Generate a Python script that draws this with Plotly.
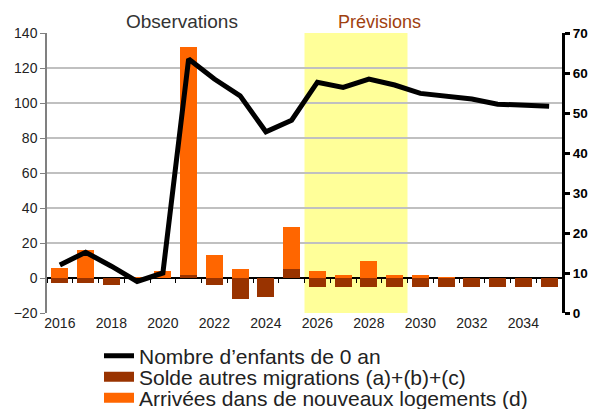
import plotly.graph_objects as go

years = list(range(2016, 2036))
# Nombre d'enfants de 0 an (axe de droite)
enfants = [12.0, 15.2, 11.7, 7.9, 10.0, 63.5, 58.5, 54.3, 45.3, 48.2,
           57.7, 56.4, 58.5, 57.0, 54.9, 54.2, 53.5, 52.2, 52.0, 51.7]
# Solde autres migrations (a)+(b)+(c)
solde = [-3, -3, -4, 0, 0, 2, -4, -12, -11, 5,
         -5.3, -5.3, -5.3, -5.3, -5.3, -5.3, -5.3, -5.3, -5.3, -5.3]
# Arrivées dans de nouveaux logements (d)
arrivees = [6, 16, 0, 0.5, 4, 130, 13, 5, 0, 24,
            4.2, 1.5, 9.9, 1.9, 1.9, 0.5, 0, 0, 0, 0]

ORANGE = '#FF6600'
BROWN = '#993300'
FONT = 'Arial, Liberation Sans, sans-serif'
W, H = 590, 409

fig = go.Figure()
fig.add_trace(go.Bar(
    x=years, y=solde, marker_color=BROWN, marker_line_width=0,
    width=0.66, showlegend=False
))
fig.add_trace(go.Bar(
    x=years, y=arrivees, marker_color=ORANGE, marker_line_width=0,
    width=0.66, showlegend=False
))
fig.add_trace(go.Scatter(
    x=years, y=enfants, yaxis='y2', mode='lines',
    line=dict(color='#000000', width=5),
    name="Nombre d\u2019enfants de 0 an", legend='legend'
))
# legend entries drawn as thick lines to mimic the wide rectangles
fig.add_trace(go.Scatter(x=[None], y=[None], mode='lines',
                         line=dict(color=BROWN, width=13),
                         name='Solde autres migrations (a)+(b)+(c)', legend='legend2'))
fig.add_trace(go.Scatter(x=[None], y=[None], mode='lines',
                         line=dict(color=ORANGE, width=13),
                         name='Arrivées dans de nouveaux logements (d)', legend='legend3'))
# invisible trace to draw the small ticks on the zero line
fig.add_trace(go.Scatter(x=years, y=[None] * len(years), xaxis='x2',
                         showlegend=False, hoverinfo='skip'))

fig.add_shape(type='rect', xref='x', yref='paper', x0=2025.5, x1=2029.5,
              y0=0, y1=1, fillcolor='#FFFF99', line_width=0, layer='below')

fig.add_annotation(text='Observations', x=0.262, y=1.04, xref='paper', yref='paper',
                   xanchor='center', yanchor='middle',
                   showarrow=False, font=dict(size=19, color='#333333'))
fig.add_annotation(text='Prévisions', x=0.645, y=1.04, xref='paper', yref='paper',
                   xanchor='center', yanchor='middle',
                   showarrow=False, font=dict(size=18, color='#A0400F'))

leg = dict(xref='container', yref='container', xanchor='left', yanchor='middle',
           font=dict(size=21, color='#222222'), itemwidth=30,
           bgcolor='rgba(0,0,0,0)')
legend_rows = [356, 377, 398]

def leg_pos(row):
    return dict(x=99 / W, y=1 - row / H)

fig.update_layout(
    width=W, height=H,
    barmode='relative', bargap=0,
    paper_bgcolor='white', plot_bgcolor='white',
    font=dict(family=FONT, color='#222222', size=13),
    margin=dict(l=47, r=28, t=33, b=96, autoexpand=False),
    xaxis=dict(range=[2015.5, 2035.5], tickmode='linear', tick0=2016, dtick=2,
               showgrid=False, showline=False, ticks='', zeroline=False,
               tickfont=dict(size=14), automargin=False),
    xaxis2=dict(overlaying='x', anchor='free', position=0.125,
                range=[2015.5, 2035.5], tickmode='linear', tick0=2015.5, dtick=1,
                showticklabels=False, ticks='outside', ticklen=4, tickcolor='#000000',
                showline=False, showgrid=False, zeroline=False, automargin=False),
    yaxis=dict(range=[-20, 140], dtick=20, showgrid=True, gridcolor='#C0C0C0',
               gridwidth=1.5, zeroline=True, zerolinecolor='#000000', zerolinewidth=1.5,
               showline=True, linecolor='#808080', linewidth=1.5,
               ticks='outside', ticklen=5, tickcolor='#808080',
               tickfont=dict(size=14), automargin=False),
    yaxis2=dict(range=[0, 70], dtick=10, overlaying='y', side='right',
                showgrid=False, zeroline=False, showline=True, linecolor='#000000',
                linewidth=3, ticks='outside', ticklen=5, tickwidth=3, tickcolor='#000000',
                tickfont=dict(size=13.5, color='#000000', weight='bold'),
                automargin=False),
    legend=dict(leg, **leg_pos(legend_rows[0])),
    legend2=dict(leg, **leg_pos(legend_rows[1])),
    legend3=dict(leg, **leg_pos(legend_rows[2])),
    showlegend=True,
)

# drop the default page margin so the figure fills the 590x409 window
fig.write_html("out.html", config={'displayModeBar': False},
               post_script="document.body.style.margin='0';"
                           "document.body.style.overflow='hidden';")
